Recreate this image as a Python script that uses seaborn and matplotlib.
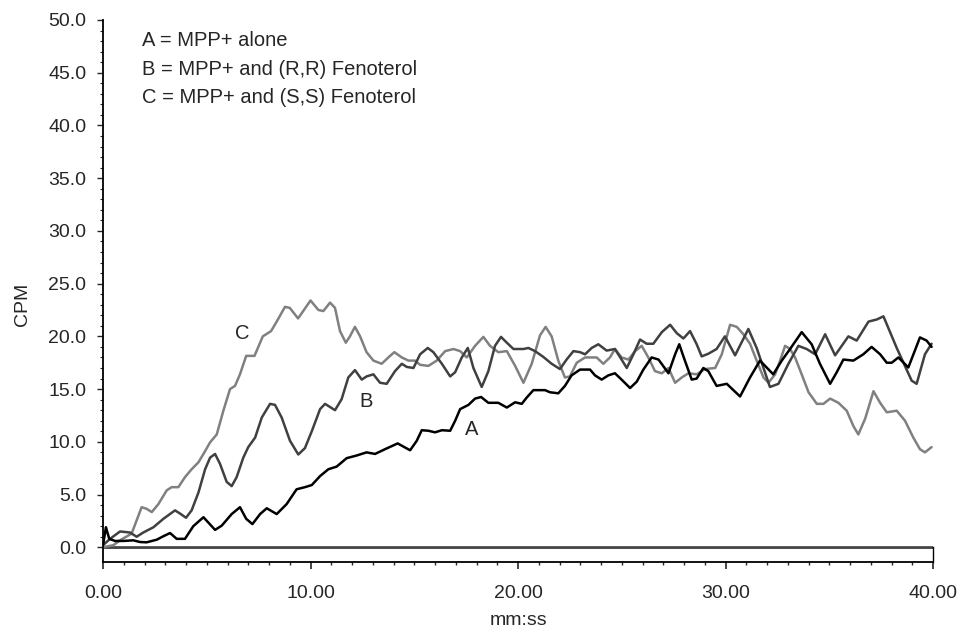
import matplotlib
matplotlib.use("Agg")
import matplotlib.pyplot as plt
import matplotlib.ticker as mticker
import seaborn as sns
import pandas as pd
import numpy as np

sns.set_style("ticks")
plt.rcParams['font.family'] = ['Liberation Sans', 'DejaVu Sans']
plt.rcParams['axes.unicode_minus'] = False

# --- data (time in min, CPM) ---
a_time = [0, 0.14, 0.3, 0.58, 0.98, 1.46, 1.78, 2.1, 2.59, 2.91, 3.23, 3.55, 3.95, 4.35,
          4.84, 5.4, 5.72, 6.2, 6.6, 6.9, 7.2, 7.57, 7.89, 8.37, 8.85, 9.33, 9.73, 10.06,
          10.46, 10.86, 11.26, 11.74, 12.22, 12.7, 13.11, 13.59, 14.2, 14.52, 14.8, 15.12,
          15.36, 15.68, 16.0, 16.33, 16.73, 16.97, 17.21, 17.61, 17.93, 18.22, 18.57, 19.05,
          19.46, 19.86, 20.18, 20.42, 20.74, 21.3, 21.54, 21.94, 22.26, 22.58, 22.99, 23.47,
          23.71, 24.03, 24.35, 24.67, 24.99, 25.4, 25.72, 26.04, 26.44, 26.77, 27.25, 27.57,
          27.77, 27.97, 28.37, 28.61, 28.93, 29.17, 29.57, 30.06, 30.7, 31.18, 31.66, 31.98,
          32.3, 32.71, 33.11, 33.67, 34.15, 34.55, 35.04, 35.36, 35.68, 36.16, 36.64, 37.04,
          37.45, 37.77, 38.01, 38.33, 38.81, 39.37, 39.69, 39.93]
a_cpm = [0.2, 1.9, 0.8, 0.6, 0.6, 0.66, 0.5, 0.47, 0.72, 1.05, 1.35, 0.8, 0.8, 2.0,
         2.85, 1.65, 2.05, 3.15, 3.8, 2.7, 2.2, 3.15, 3.7, 3.15, 4.1, 5.5, 5.7, 5.9,
         6.75, 7.4, 7.65, 8.45, 8.7, 9.0, 8.85, 9.3, 9.85, 9.5, 9.2, 10.1,
         11.1, 11.05, 10.9, 11.1, 11.05, 12.0, 13.1, 13.5, 14.1, 14.25, 13.7, 13.7,
         13.25, 13.75, 13.6, 14.2, 14.9, 14.9, 14.7, 14.6, 15.3, 16.3, 16.85, 16.85,
         16.3, 15.9, 16.3, 16.5, 15.9, 15.1, 15.7, 16.85, 18.0, 17.8, 16.5, 18.3,
         19.25, 18.1, 15.9, 16.0, 17.0, 16.7, 15.3, 15.5, 14.3, 16.1, 17.7, 17.05,
         16.4, 17.7, 18.8, 20.4, 19.25, 17.4, 15.5, 16.6, 17.8, 17.7, 18.3, 19.0,
         18.3, 17.5, 17.5, 18.0, 17.05, 19.9, 19.6, 19.0]

b_time = [0, 0.34, 0.82, 1.3, 1.62, 1.94, 2.43, 2.91, 3.47, 3.71, 4.0, 4.27, 4.6, 4.92,
          5.16, 5.4, 5.64, 5.96, 6.2, 6.44, 6.76, 7.0, 7.33, 7.65, 8.05, 8.29, 8.61, 9.01,
          9.41, 9.73, 10.06, 10.46, 10.7, 11.18, 11.5, 11.82, 12.14, 12.47, 12.7, 13.03,
          13.35, 13.67, 14.07, 14.4, 14.64, 14.96, 15.28, 15.65, 15.92, 16.33, 16.73, 16.97,
          17.29, 17.58, 17.85, 18.25, 18.57, 18.89, 19.18, 19.46, 19.78, 20.26, 20.5, 20.82,
          21.22, 21.62, 22.02, 22.34, 22.67, 22.99, 23.23, 23.55, 23.87, 24.27, 24.67, 24.99,
          25.24, 25.56, 25.88, 26.2, 26.52, 26.93, 27.33, 27.65, 27.97, 28.29, 28.61, 28.85,
          29.17, 29.57, 29.97, 30.46, 31.1, 31.5, 32.14, 32.55, 33.03, 33.51, 33.91, 34.32,
          34.8, 35.28, 35.92, 36.32, 36.89, 37.29, 37.61, 38.25, 38.97, 39.21, 39.61, 39.93]
b_cpm = [0.2, 0.8, 1.5, 1.4, 1.0, 1.4, 1.9, 2.7, 3.5, 3.2, 2.8, 3.5, 5.2, 7.4,
         8.5, 8.85, 7.9, 6.2, 5.8, 6.65, 8.5, 9.5, 10.4, 12.3, 13.6, 13.5, 12.3, 10.1,
         8.8, 9.4, 11.0, 13.1, 13.6, 13.0, 14.05, 16.1, 16.8, 15.9, 16.2, 16.4,
         15.6, 15.5, 16.7, 17.4, 17.1, 17.0, 18.3, 18.9, 18.5, 17.4, 16.2, 16.6,
         18.0, 18.9, 17.0, 15.2, 16.7, 19.1, 19.95, 19.4, 18.8, 18.8, 18.9, 18.6,
         18.05, 17.4, 16.9, 17.8, 18.6, 18.5, 18.3, 18.9, 19.25, 18.65, 18.8, 17.8,
         17.0, 18.3, 19.7, 19.3, 19.3, 20.4, 21.1, 20.3, 19.8, 20.5, 19.25, 18.1,
         18.35, 18.8, 20.0, 18.2, 20.7, 18.9, 15.2, 15.5, 17.4, 19.1, 18.8, 18.3,
         20.2, 18.2, 20.0, 19.6, 21.4, 21.6, 21.9, 18.9, 15.8, 15.5, 18.3, 19.3]

c_time = [0, 0.5, 0.82, 1.38, 1.62, 1.86, 2.1, 2.35, 2.67, 3.07, 3.31, 3.63, 3.95, 4.27,
          4.6, 4.84, 5.16, 5.48, 5.8, 6.12, 6.36, 6.6, 6.9, 7.3, 7.7, 8.1, 8.37, 8.77,
          9.0, 9.4, 10.0, 10.38, 10.62, 10.94, 11.18, 11.42, 11.7, 11.9, 12.14, 12.39,
          12.7, 13.03, 13.43, 13.75, 14.04, 14.4, 14.72, 15.04, 15.28, 15.68, 16.08, 16.49,
          16.89, 17.21, 17.53, 17.93, 18.33, 18.65, 19.05, 19.46, 19.86, 20.26, 20.66, 21.06,
          21.33, 21.62, 21.94, 22.26, 22.5, 22.83, 23.23, 23.79, 24.11, 24.43, 24.67, 24.99,
          25.32, 25.64, 25.96, 26.28, 26.6, 26.93, 27.25, 27.57, 27.89, 28.21, 28.61, 29.01,
          29.5, 29.82, 30.22, 30.54, 30.86, 31.18, 31.5, 31.83, 32.07, 32.39, 32.63, 32.87,
          33.11, 33.35, 33.67, 34.0, 34.4, 34.72, 35.04, 35.44, 35.84, 36.16, 36.4, 36.73,
          37.13, 37.45, 37.77, 38.25, 38.65, 39.05, 39.37, 39.61, 39.93]
c_cpm = [0.0, 0.2, 0.66, 1.3, 2.55, 3.8, 3.65, 3.34, 4.1, 5.4, 5.7, 5.7, 6.65, 7.4,
         8.06, 8.85, 9.95, 10.7, 12.95, 15.0, 15.3, 16.4, 18.15, 18.15, 20.0, 20.5, 21.4, 22.8,
         22.7, 21.7, 23.4, 22.5, 22.4, 23.2, 22.7, 20.5, 19.4, 20.0, 20.9, 20.0,
         18.5, 17.7, 17.4, 18.0, 18.5, 18.0, 17.7, 17.7, 17.3, 17.2, 17.7, 18.6,
         18.8, 18.6, 18.0, 19.1, 19.95, 19.1, 18.5, 18.6, 17.2, 15.6, 17.4, 20.1,
         20.9, 20.0, 17.7, 16.1, 16.2, 17.5, 18.0, 18.0, 17.4, 18.0, 18.8, 18.0,
         17.8, 18.6, 19.1, 18.0, 16.7, 16.5, 17.0, 15.6, 16.1, 16.5, 16.4, 16.9,
         17.0, 18.3, 21.1, 20.9, 20.2, 19.3, 17.7, 16.1, 15.6, 16.4, 17.7, 19.1,
         18.8, 18.0, 16.4, 14.7, 13.6, 13.6, 14.1, 13.7, 12.95, 11.5, 10.7, 12.2,
         14.8, 13.7, 12.8, 12.95, 12.0, 10.4, 9.3, 9.0, 9.5]

trace_names = ['A', 'B', 'C']
legend_lines = ['A = MPP+ alone',
                'B = MPP+ and (R,R) Fenoterol',
                'C = MPP+ and (S,S) Fenoterol']
label_pos = {'A': (17.77, 11.2), 'B': (12.7, 13.8), 'C': (6.7, 20.3)}

df = pd.concat([
    pd.DataFrame({'time': a_time, 'cpm': a_cpm, 'trace': 'A'}),
    pd.DataFrame({'time': b_time, 'cpm': b_cpm, 'trace': 'B'}),
    pd.DataFrame({'time': c_time, 'cpm': c_cpm, 'trace': 'C'}),
], ignore_index=True)

palette = {'A': '#000000', 'B': '#404040', 'C': '#808080'}

fig = plt.figure(figsize=(9.61, 6.30), dpi=100)
ax = fig.add_axes([0.1072, 0.1087, 0.8637, 0.8596])

# draw C first so the darker traces sit on top
sns.lineplot(data=df, x='time', y='cpm', hue='trace', hue_order=['C', 'B', 'A'],
             palette=palette, estimator=None, sort=False, linewidth=1.8,
             legend=False, ax=ax)
for ln in ax.lines:
    ln.set_solid_joinstyle('round')
    ln.set_solid_capstyle('round')

# baseline band at zero
ax.axhline(0, color='#2a2a2a', lw=1.9, zorder=1)
ax.axhline(0, color='#9a9a9a', lw=0.35, zorder=1)

ax.set_xlim(0, 40)
ax.set_ylim(-1.35, 50)

ax.xaxis.set_major_locator(mticker.MultipleLocator(10))
ax.xaxis.set_minor_locator(mticker.MultipleLocator(1))
ax.xaxis.set_major_formatter(mticker.FormatStrFormatter('%.2f'))
ax.yaxis.set_major_locator(mticker.FixedLocator(np.arange(0, 51, 5)))
ax.yaxis.set_minor_locator(mticker.FixedLocator(np.arange(0, 51, 1)))
ax.yaxis.set_major_formatter(mticker.FormatStrFormatter('%.1f'))

ax.tick_params(axis='x', which='major', direction='out', length=5, width=1.2,
               labelsize=14, pad=12)
ax.tick_params(axis='x', which='minor', direction='out', length=2.5, width=1.0)
ax.tick_params(axis='y', which='major', direction='out', length=4, width=1.0,
               labelsize=14, pad=8)
ax.tick_params(axis='y', which='minor', direction='out', length=2, width=0.8)

for side in ['left', 'bottom']:
    ax.spines[side].set_linewidth(1.3)
    ax.spines[side].set_color('black')
ax.spines['top'].set_visible(False)
ax.spines['right'].set_bounds(-1.35, 0)
ax.spines['right'].set_linewidth(1.0)
ax.spines['right'].set_color('black')

ax.set_xlabel('mm:ss', fontsize=14)
ax.set_ylabel('CPM', fontsize=14)
ax.xaxis.set_label_coords(0.5, -0.093)
ax.yaxis.set_label_coords(-0.087, 0.474)

for name in trace_names:
    x, y = label_pos[name]
    ax.text(x, y, name, fontsize=14.5, ha='center', va='center')

for i, line in enumerate(legend_lines):
    ax.text(1.87, 47.55 - 2.73 * i, line, fontsize=14.5, ha='left', va='baseline')

fig.savefig('out.png', dpi=100)
